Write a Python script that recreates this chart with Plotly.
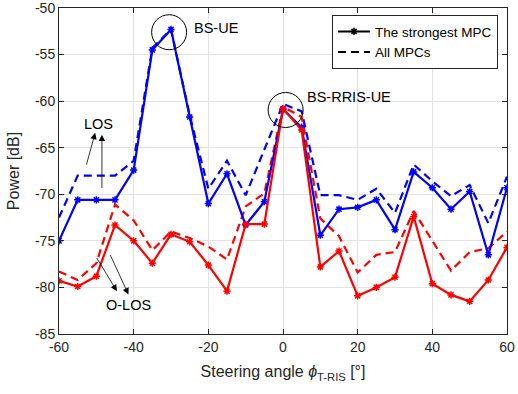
import plotly.graph_objects as go

angles = list(range(-60, 61, 5))
los_strongest = [-75.0, -70.6, -70.6, -70.6, -67.4, -54.5, -52.3, -61.7, -71.0, -67.8, -73.3, -70.8,
                 -60.9, -62.8, -74.4, -71.6, -71.4, -70.6, -73.8, -67.6, -69.3, -71.6, -69.7, -76.5, -69.3]
los_all = [-72.5, -68.0, -68.0, -68.0, -66.4, -54.3, -52.3, -61.5, -69.4, -66.4, -70.1, -65.1,
           -60.3, -61.1, -70.1, -70.1, -70.6, -69.4, -72.0, -66.8, -68.6, -70.2, -69.0, -73.1, -68.1]
olos_strongest = [-79.3, -79.9, -78.8, -73.3, -75.0, -77.4, -74.3, -75.1, -77.6, -80.4, -73.2, -73.2,
                  -60.8, -63.1, -77.8, -76.1, -80.9, -80.0, -78.9, -72.4, -79.6, -80.8, -81.5, -79.2, -75.7]
olos_all = [-78.3, -79.2, -77.4, -71.1, -72.8, -76.0, -74.0, -74.7, -75.6, -77.0, -71.3, -69.9,
            -60.6, -61.7, -72.6, -74.5, -78.4, -76.5, -76.2, -71.8, -75.0, -78.2, -76.2, -75.8, -74.0]
x_ticks = [-60, -40, -20, 0, 20, 40, 60]
x_tick_labels = ["-60", "-40", "-20", "0", "20", "40", "60"]
y_ticks = [-85, -80, -75, -70, -65, -60, -55, -50]
y_tick_labels = ["-85", "-80", "-75", "-70", "-65", "-60", "-55", "-50"]

FONT = "Liberation Sans, Arial, sans-serif"
DASH = "8px,5px"
fig = go.Figure()
fig.add_trace(go.Scatter(x=angles, y=los_all, mode="lines", line=dict(color="#0000ff", width=2.2, dash=DASH), showlegend=False))
fig.add_trace(go.Scatter(x=angles, y=olos_all, mode="lines", line=dict(color="#ff0000", width=2.2, dash=DASH), showlegend=False))
fig.add_trace(go.Scatter(x=angles, y=los_strongest, mode="lines+markers", line=dict(color="#0000ff", width=2.2),
                         marker=dict(color="#0000ff", symbol="asterisk-open", size=6, line=dict(width=1.5, color="#0000ff")), showlegend=False))
fig.add_trace(go.Scatter(x=angles, y=olos_strongest, mode="lines+markers", line=dict(color="#ff0000", width=2.2),
                         marker=dict(color="#ff0000", symbol="asterisk-open", size=6, line=dict(width=1.5, color="#ff0000")), showlegend=False))
# legend entries
fig.add_trace(go.Scatter(x=[None], y=[None], mode="lines+markers", name="The strongest MPC",
                         line=dict(color="black", width=2), marker=dict(color="black", symbol="asterisk-open", size=6, line=dict(width=1.5, color="black"))))
fig.add_trace(go.Scatter(x=[None], y=[None], mode="lines", name="All MPCs",
                         line=dict(color="black", width=2, dash=DASH)))

# circles
for cx, cy in [(-30.5, -52.6), (0.7, -60.95)]:
    fig.add_shape(type="circle", xref="x", yref="y", xsizemode="pixel", ysizemode="pixel",
                  xanchor=cx, yanchor=cy, x0=-17.5, x1=17.5, y0=-17.5, y1=17.5,
                  line=dict(color="black", width=1))

font = dict(family=FONT, size=14.5, color="black")
fig.add_annotation(x=-24.4, y=-52.2, text="BS-UE", showarrow=False, xanchor="left", font=font)
fig.add_annotation(x=6.0, y=-59.6, text="BS-RRIS-UE", showarrow=False, xanchor="left", font=font)
fig.add_annotation(x=-49.4, y=-62.5, text="LOS", showarrow=False, font=font)
fig.add_annotation(x=-41.5, y=-81.9, text="O-LOS", showarrow=False, font=font)

arrows = [((-53.4, -67.9), (-50.3, -63.4)),
          ((-48.5, -70.4), (-48.5, -63.6)),
          ((-50.7, -76.3), (-44.5, -80.4)),
          ((-47.1, -75.8), (-41.4, -80.75))]
for (tx, ty), (hx, hy) in arrows:
    fig.add_annotation(x=hx, y=hy, ax=tx, ay=ty, xref="x", yref="y", axref="x", ayref="y",
                       showarrow=True, arrowhead=2, arrowsize=1.6, arrowwidth=0.8, arrowcolor="black", text=" ")

axis_common = dict(showgrid=True, gridcolor="#e3e3e3", gridwidth=1, showline=True, linecolor="#262626",
                   linewidth=1, mirror="ticks", ticks="inside", ticklen=5, tickcolor="#262626",
                   zeroline=False, automargin=False, ticklabeloverflow="allow",
                   tickfont=dict(family=FONT, size=14, color="#262626"))
fig.update_xaxes(range=[-60, 60], tickvals=x_ticks, ticktext=x_tick_labels, **axis_common,
                 title=dict(text="Steering angle <i>ϕ</i><sub>T-RIS</sub> [°]", standoff=12,
                            font=dict(family=FONT, size=16, color="#262626")))
fig.update_yaxes(range=[-85, -50], tickvals=y_ticks, ticktext=y_tick_labels, **axis_common,
                 title=dict(text="Power [dB]", standoff=11,
                            font=dict(family=FONT, size=16, color="#262626")))
fig.update_layout(width=518, height=394, margin=dict(l=59, r=11, t=8, b=60),
                  plot_bgcolor="white", paper_bgcolor="white",
                  legend=dict(x=0.98, y=0.978, xanchor="right", yanchor="top", bgcolor="white",
                              bordercolor="#262626", borderwidth=1, tracegroupgap=0,
                              font=dict(family=FONT, size=13.5, color="black"),
                              itemwidth=32))
fig.write_html("out.html", config={"displayModeBar": False},
               post_script="document.body.style.margin='0';")
